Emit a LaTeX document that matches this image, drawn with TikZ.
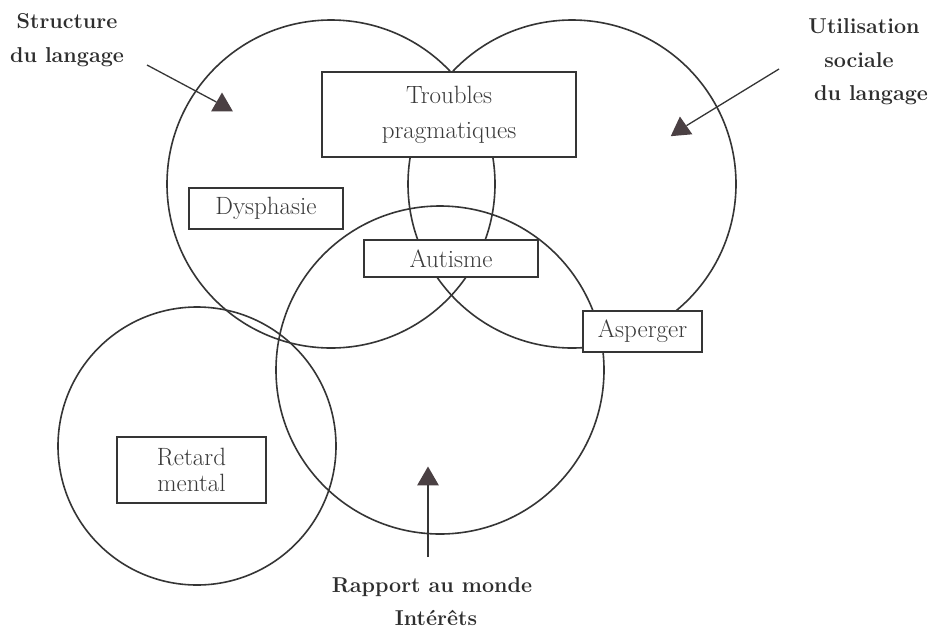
\documentclass[tikz,border=0pt]{standalone}
\usetikzlibrary{shapes.geometric}
\definecolor{ink}{HTML}{353535}
\definecolor{txt}{HTML}{3A3A3A}
\definecolor{labc}{HTML}{2E2E2E}
\definecolor{trifill}{HTML}{4A4043}
\begin{document}
\begin{tikzpicture}[x=1pt,y=-1pt,
  ring/.style={circle,draw=ink,line width=1.6pt,minimum size=#1,inner sep=0pt},
  boxnode/.style={draw=ink,fill=white,line width=1.1pt,inner sep=0pt,text=txt,align=center,font=\fontsize{25}{25}\selectfont},
  tri/.style={regular polygon,regular polygon sides=3,fill=trifill,inner sep=0pt,minimum size=25pt},
  arrowline/.style={draw=ink,line width=1.3pt},
  lab/.style={font=\fontsize{21.5}{25}\selectfont\bfseries,text=labc,anchor=base,inner sep=0pt}]
\useasboundingbox (0,0) rectangle (930,630);
\fill[white] (0,0) rectangle (930,630);
% circles
\node[ring=328pt] (lang) at (331,184) {};
\node[ring=328pt] (soc) at (572,184) {};
\node[ring=328pt] (monde) at (440,370) {};
\node[ring=278pt] (retard) at (197,446) {};
% arrows
\coordinate (s0) at (147,65);
\coordinate (u0) at (779,69);
\coordinate (r0) at (428,557);
\node[tri] (t1) at (222,105) {};
\node[tri,rotate=5] (t2) at (681,129) {};
\node[tri] (t3) at (428,479) {};
\draw[arrowline] (s0) -- (t1);
\draw[arrowline] (u0) -- (t2);
\draw[arrowline] (r0) -- (t3);
% boxes
\node[boxnode,minimum width=254pt,minimum height=85pt,font=\fontsize{25}{35}\selectfont] (tp) at (449,114.5) {Troubles\\pragmatiques};
\node[boxnode,minimum width=154pt,minimum height=41pt] (dys) at (266,208.5) {Dysphasie};
\node[boxnode,minimum width=174pt,minimum height=37pt] (aut) at (451,258.5) {Autisme};
\node[boxnode,minimum width=119pt,minimum height=41pt] (asp) at (642.5,331.5) {Asperger};
\node[boxnode,minimum width=149pt,minimum height=66pt,font=\fontsize{25}{26}\selectfont] (rm) at (191.5,470) {Retard\\mental};
% labels
\node[lab] (l1) at (67,28) {Structure};
\node[lab] (l2) at (67,62) {du langage};
\node[lab] (l3) at (864,33) {Utilisation};
\node[lab] (l4) at (859,67) {sociale};
\node[lab] (l5) at (871,100) {du langage};
\node[lab] (l6) at (432,592) {Rapport au monde};
\node[lab] (l7) at (436,625) {Intérêts};
\end{tikzpicture}
\end{document}
